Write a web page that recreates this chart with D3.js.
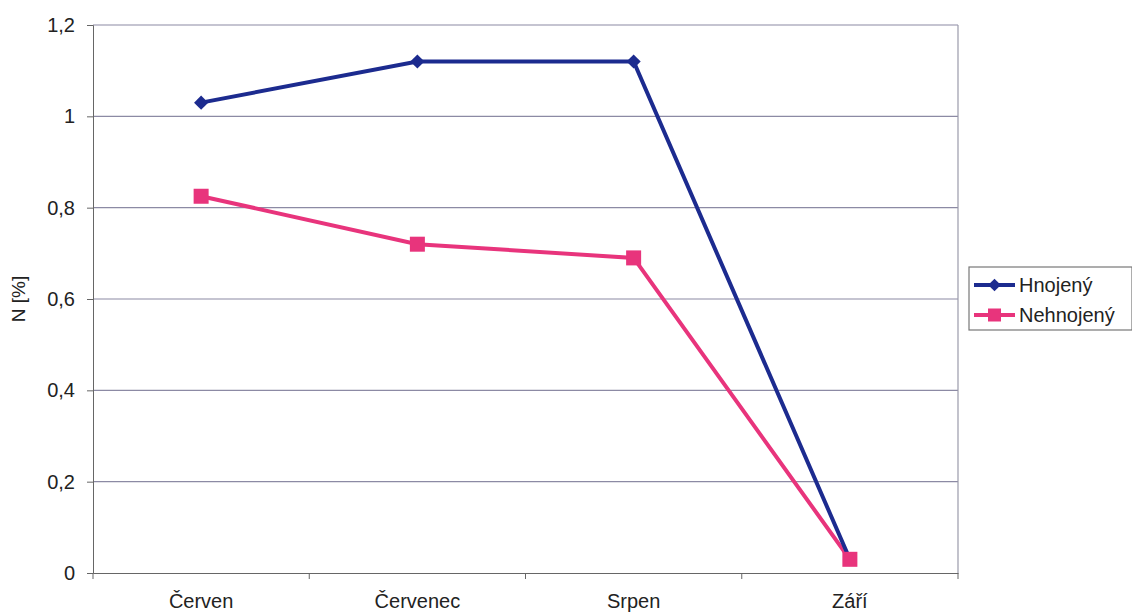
<!DOCTYPE html>
<html><head><meta charset="utf-8">
<script src="https://cdn.jsdelivr.net/npm/d3@7"></script>
<style>body{margin:0;background:#fff}svg{display:block}text{font-family:"Liberation Sans",Arial,sans-serif;fill:#222}</style>
</head><body>
<svg id="c" width="1132" height="615"></svg>
<script>
const categories = ["Červen", "Červenec", "Srpen", "Září"];
const hnojeny = [1.03, 1.12, 1.12, 0.03];
const nehnojeny = [0.825, 0.72, 0.69, 0.03];
const seriesNames = ["Hnojený", "Nehnojený"];
const yTicks = [0, 0.2, 0.4, 0.6, 0.8, 1, 1.2];
const yTickLabels = ["0", "0,2", "0,4", "0,6", "0,8", "1", "1,2"];

const svg = d3.select("#c");
const m = {l: 93, r: 958, t: 25, b: 573};
const x = d3.scaleBand().domain(categories).range([m.l, m.r]);
const y = d3.scaleLinear().domain([0, 1.2]).range([m.b, m.t]);
const gridCol = "#8c8aa4";

svg.append("g").selectAll("line").data(yTicks.slice(1)).join("line")
  .attr("x1", m.l).attr("x2", m.r).attr("y1", d => y(d)).attr("y2", d => y(d))
  .attr("stroke", gridCol).attr("stroke-width", 1.2);
svg.append("line").attr("x1", m.r).attr("x2", m.r).attr("y1", m.t).attr("y2", m.b)
  .attr("stroke", "#9a9aaa").attr("stroke-width", 1.2);

const yAxis = d3.axisLeft(y).tickValues(yTicks).tickFormat((d,i) => yTickLabels[i]).tickSize(6).tickPadding(12);
const gy = svg.append("g").attr("transform", `translate(${m.l},0)`).call(yAxis);
gy.selectAll("path,line").attr("stroke", "#666");
gy.selectAll("text").style("font-size", "20px").attr("fill", "#222");

const xAxis = d3.axisBottom(x).tickSize(0).tickPadding(21);
const gx = svg.append("g").attr("transform", `translate(0,${m.b})`).call(xAxis);
gx.select("path").attr("stroke", "#666");
gx.selectAll("text").style("font-size", "20px").attr("fill", "#222");
const bounds = categories.map(c => x(c)).concat([m.r]);
svg.append("g").selectAll("line").data(bounds).join("line")
  .attr("x1", d => d).attr("x2", d => d).attr("y1", m.b).attr("y2", m.b + 6)
  .attr("stroke", "#666");

svg.append("text").attr("transform", `translate(25,${(m.t+m.b)/2}) rotate(-90)`)
  .attr("text-anchor", "middle").style("font-size", "19px").text("N [%]");

const cx = c => x(c) + x.bandwidth()/2;
const blue = "#1c2b8f", pink = "#e8347c";
const line = d3.line().x((d,i) => cx(categories[i])).y(d => y(d));

svg.append("path").datum(nehnojeny).attr("d", line).attr("fill", "none").attr("stroke", pink).attr("stroke-width", 4);
svg.append("path").datum(hnojeny).attr("d", line).attr("fill", "none").attr("stroke", blue).attr("stroke-width", 4);

svg.append("g").selectAll("path").data(hnojeny).join("path")
  .attr("d", d3.symbol().type(d3.symbolSquare).size(100))
  .attr("transform", (d,i) => `translate(${cx(categories[i])},${y(d)}) rotate(45)`)
  .attr("fill", blue);
svg.append("g").selectAll("rect").data(nehnojeny).join("rect")
  .attr("x", (d,i) => cx(categories[i]) - 7.5).attr("y", d => y(d) - 7.5)
  .attr("width", 15).attr("height", 15).attr("fill", pink);

const lg = svg.append("g");
lg.append("rect").attr("x", 969).attr("y", 267).attr("width", 163).attr("height", 63)
  .attr("fill", "#fff").attr("stroke", "#777").attr("stroke-width", 1.2);
const cols = [blue, pink];
seriesNames.forEach((n, i) => {
  const yy = 285 + i * 30;
  lg.append("line").attr("x1", 974).attr("x2", 1015).attr("y1", yy).attr("y2", yy).attr("stroke", cols[i]).attr("stroke-width", 4);
  if (i === 0) lg.append("path").attr("d", d3.symbol().type(d3.symbolSquare).size(80)).attr("transform", `translate(994.5,${yy}) rotate(45)`).attr("fill", blue);
  else lg.append("rect").attr("x", 988).attr("y", yy - 6.5).attr("width", 13).attr("height", 13).attr("fill", pink);
  lg.append("text").attr("x", 1019).attr("y", yy + 7).style("font-size", "20px").text(n);
});
</script>
</body></html>
